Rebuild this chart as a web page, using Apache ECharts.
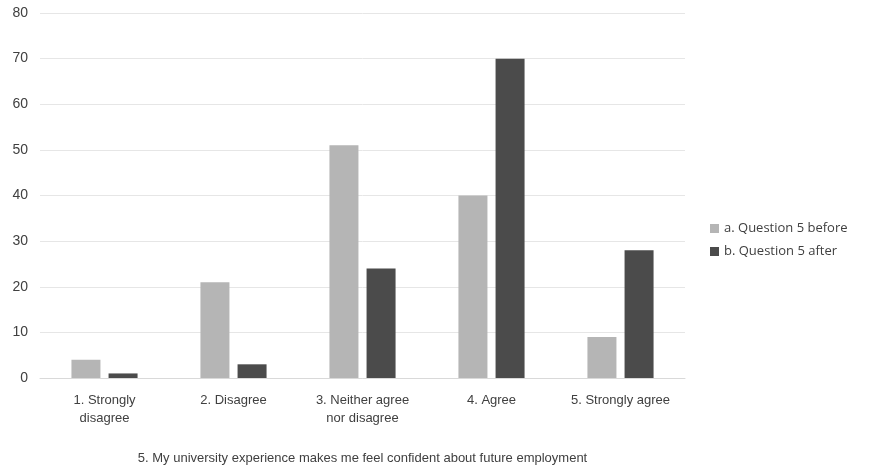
<!DOCTYPE html>
<html>
<head>
<meta charset="utf-8">
<script src="https://cdn.jsdelivr.net/npm/echarts@6/dist/echarts.min.js"></script>
<style>
  html, body { margin: 0; padding: 0; background: #fff; }
  #chart { width: 878px; height: 466px; }
</style>
</head>
<body>
<div id="chart"></div>
<script>
// categories and values
const categories = ['1. Strongly\ndisagree', '2. Disagree', '3. Neither agree\nnor disagree', '4. Agree', '5. Strongly agree'];
const before = [4, 21, 51, 40, 9];
const after = [1, 3, 24, 70, 28];
const seriesNames = ['a. Question 5 before', 'b. Question 5 after'];
const axisTitle = '5. My university experience makes me feel confident about future employment';

const chart = echarts.init(document.getElementById('chart'));
chart.setOption({
    animation: false,
    grid: { left: 40, right: 193, top: 13, bottom: 88, outerBoundsMode: 'none' },
    legend: {
        orient: 'vertical',
        left: 705,
        top: 217,
        itemWidth: 9,
        itemHeight: 9,
        itemGap: 10,
        icon: 'rect',
        textStyle: { fontFamily: 'Open Sans', fontSize: 13, color: '#404040' },
        data: seriesNames
    },
    xAxis: {
        type: 'category',
        data: categories,
        name: axisTitle,
        nameLocation: 'middle',
        nameGap: 74,
        nameTextStyle: { fontFamily: 'Liberation Sans', fontSize: 13, color: '#404040' },
        axisLine: { lineStyle: { color: '#d9d9d9' } },
        axisTick: { show: false },
        axisLabel: {
            fontFamily: 'Liberation Sans',
            fontSize: 13,
            color: '#404040',
            lineHeight: 18,
            margin: 13
        }
    },
    yAxis: {
        type: 'value',
        min: 0,
        max: 80,
        interval: 10,
        axisLine: { show: false },
        axisTick: { show: false },
        splitLine: { lineStyle: { color: '#e6e6e6' } },
        axisLabel: { fontFamily: 'Liberation Sans', fontSize: 14, color: '#404040', margin: 12 }
    },
    series: [
        {
            name: seriesNames[0],
            type: 'bar',
            data: before,
            barWidth: 29,
            barGap: '28%',
            itemStyle: { color: '#b5b5b5' }
        },
        {
            name: seriesNames[1],
            type: 'bar',
            data: after,
            barWidth: 29,
            itemStyle: { color: '#4b4b4b' }
        }
    ]
});
</script>
</body>
</html>
